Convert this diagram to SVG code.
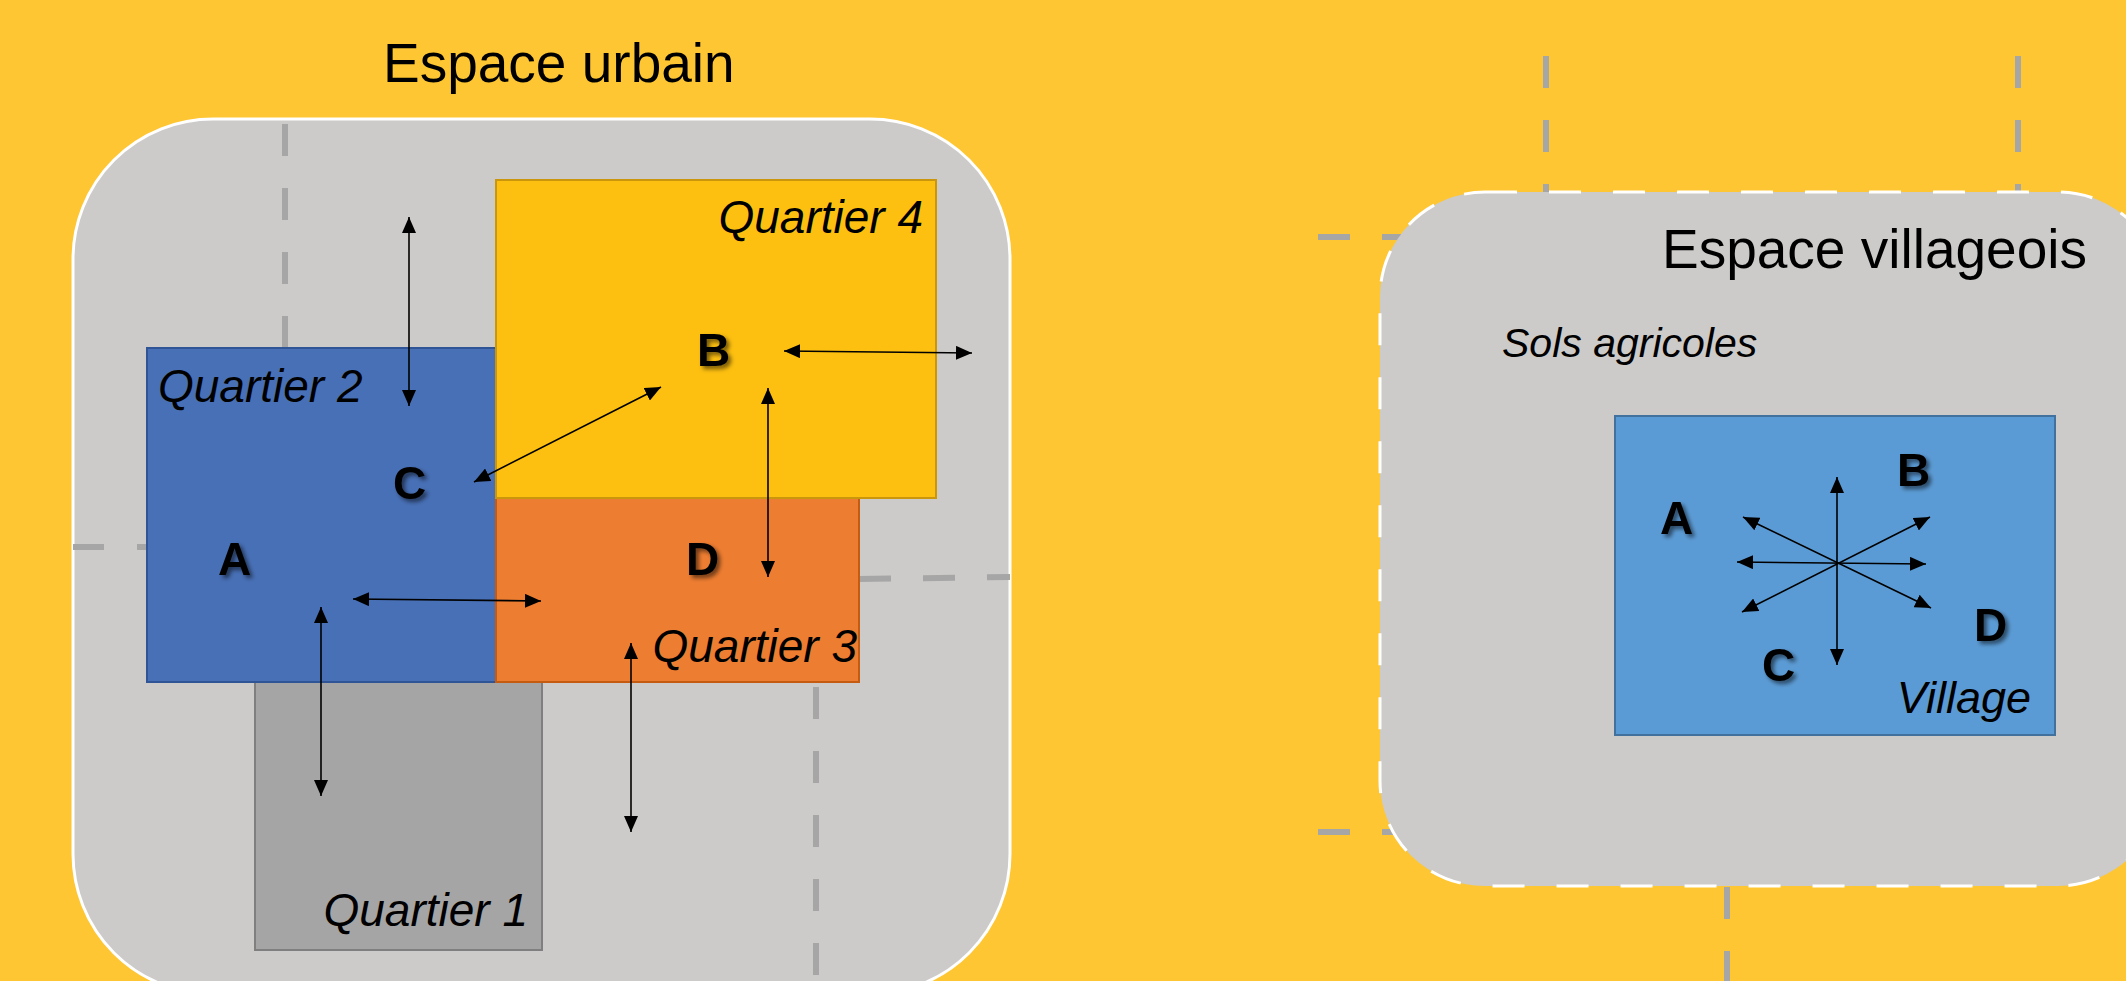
<svg xmlns="http://www.w3.org/2000/svg" width="2126" height="981" viewBox="0 0 2126 981">
  <style>
    .road { stroke: #A6A6A6; stroke-width: 6; stroke-dasharray: 32 32; fill: none; }
    .lbl { font-family: "Liberation Sans", Arial, sans-serif; font-style: italic; fill: #000; }
    .title { font-family: "Liberation Sans", Arial, sans-serif; font-size: 55px; fill: #000; }
    .letter { font-family: "Liberation Sans", Arial, sans-serif; font-weight: bold; font-size: 46px; fill: #000; filter: url(#shadow); }
    .arrow { stroke: #000; stroke-width: 1.6; fill: none; marker-start: url(#head); marker-end: url(#head); }
  </style>
  <defs>
    <marker id="head" viewBox="0 0 16 14" markerWidth="16" markerHeight="14" refX="16" refY="7" orient="auto-start-reverse" markerUnits="userSpaceOnUse">
      <path d="M0,0 L16,7 L0,14 z" fill="#000"/>
    </marker>
    <filter id="shadow" x="-30%" y="-30%" width="180%" height="180%">
      <feDropShadow dx="3" dy="3" stdDeviation="2" flood-color="#000" flood-opacity="0.55"/>
    </filter>
  </defs>

  <rect x="0" y="0" width="2126" height="981" fill="#FEC632"/>

  <!-- Village side background roads -->
  <g id="village-roads">
    <line class="road" x1="1546" y1="56" x2="1546" y2="300"/>
    <line class="road" x1="2018" y1="56" x2="2018" y2="300"/>
    <line class="road" x1="1318" y1="237" x2="1500" y2="237"/>
    <line class="road" x1="1318" y1="832" x2="1500" y2="832"/>
    <line class="road" x1="1727" y1="887" x2="1727" y2="990"/>
  </g>

  <!-- Espace urbain -->
  <g id="espace-urbain">
    <rect x="73" y="119" width="937" height="875" rx="140" ry="140" fill="#CCCBC9" stroke="#FFFFFF" stroke-width="3"/>
    <text class="title" x="383" y="82" font-size="54">Espace urbain</text>
  </g>

  <g id="urban-roads">
    <line class="road" x1="285" y1="124" x2="285" y2="348"/>
    <line class="road" x1="73" y1="547" x2="147" y2="547" style="stroke-dasharray:31 33"/>
    <line class="road" x1="859" y1="579" x2="1010" y2="577"/>
    <line class="road" x1="816" y1="687" x2="816" y2="980"/>
  </g>

  <g id="quartier-1">
    <rect x="255" y="682" width="287" height="268" fill="#A5A5A5" stroke="#7F7F7F" stroke-width="2"/>
    <text class="lbl" x="528" y="926" font-size="46" text-anchor="end">Quartier 1</text>
  </g>

  <g id="quartier-2">
    <rect x="147" y="348" width="350" height="334" fill="#4870B6" stroke="#2F5597" stroke-width="2"/>
    <text class="lbl" x="158" y="402" font-size="46">Quartier 2</text>
  </g>

  <g id="quartier-3">
    <rect x="496" y="498" width="363" height="184" fill="#ED7D31" stroke="#C55A11" stroke-width="2"/>
    <text class="lbl" x="857" y="662" font-size="46" text-anchor="end">Quartier 3</text>
  </g>

  <g id="quartier-4">
    <rect x="496" y="180" width="440" height="318" fill="#FDC010" stroke="#C9960C" stroke-width="2"/>
    <text class="lbl" x="923" y="233" font-size="46" text-anchor="end">Quartier 4</text>
  </g>

  <g id="urban-letters">
    <text class="letter" x="218" y="575">A</text>
    <text class="letter" x="697" y="366">B</text>
    <text class="letter" x="393" y="499">C</text>
    <text class="letter" x="686" y="575">D</text>
  </g>

  <!-- Espace villageois -->
  <g id="espace-villageois">
    <rect x="1380" y="192" width="783" height="694" rx="105" ry="105" fill="#CCCBC9" stroke="#FFFFFF" stroke-width="3" stroke-dasharray="32 32"/>
    <text class="title" x="1662" y="268">Espace villageois</text>
    <text class="lbl" x="1502" y="357" font-size="41">Sols agricoles</text>
  </g>

  <g id="village">
    <rect x="1615" y="416" width="440" height="319" fill="#5B9BD5" stroke="#41719C" stroke-width="2"/>
    <text class="lbl" x="2031" y="713" font-size="45" text-anchor="end">Village</text>
  </g>

  <g id="village-letters">
    <text class="letter" x="1660" y="534">A</text>
    <text class="letter" x="1897" y="486">B</text>
    <text class="letter" x="1762" y="681">C</text>
    <text class="letter" x="1974" y="641">D</text>
  </g>

  <g id="connectors">
    <line class="arrow" x1="409" y1="217" x2="409" y2="406"/>
    <line class="arrow" x1="784" y1="351" x2="972" y2="353"/>
    <line class="arrow" x1="474" y1="482" x2="661" y2="387"/>
    <line class="arrow" x1="768" y1="388" x2="768" y2="577"/>
    <line class="arrow" x1="353" y1="599" x2="541" y2="601"/>
    <line class="arrow" x1="321" y1="607" x2="321" y2="796"/>
    <line class="arrow" x1="631" y1="643" x2="631" y2="832"/>

    <line class="arrow" x1="1837" y1="477" x2="1837" y2="665"/>
    <line class="arrow" x1="1737" y1="562" x2="1926" y2="564"/>
    <line class="arrow" x1="1743" y1="517" x2="1931" y2="608"/>
    <line class="arrow" x1="1930" y1="517" x2="1742" y2="612"/>
  </g>
</svg>
